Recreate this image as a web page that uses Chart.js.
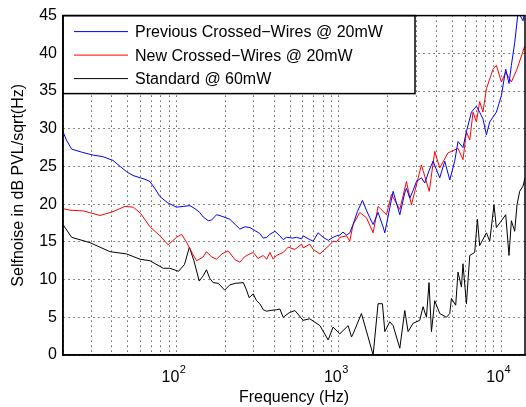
<!DOCTYPE html>
<html>
<head>
<meta charset="utf-8">
<script src="https://cdn.jsdelivr.net/npm/chart.js@4.4.1/dist/chart.umd.min.js"></script>
<style>
  html, body { margin: 0; padding: 0; background: #fff; }
  #wrap { width: 526px; height: 407px; }
</style>
</head>
<body>
<div id="wrap"><canvas id="chart" width="526" height="407"></canvas></div>
<script>
// Data (frequency in Hz, selfnoise in dB)
const prevFreq = [20,21,22.6,26,30.7,35.2,40.6,45,49.3,54,59.6,64,68.6,74,79.1,88,100,110,121,130,139,146,157,164.5,176.6,190,213,230,245.6,264,283,304,326,342,359,376,404,433,454,476,520,548,589,602,662,694,745,800,860,921,966,1013,1060,1114,1167,1223,1300,1397,1478,1549,1625,1743,1871,1918,2057,2157,2372,2546,2607,2731,2863,3003,3223,3380,3600,3802,4000,4180,4487,4818,5167,5415,5810,6100,6550,7030,7360,7715,8100,8490,9330,10020,10650,11160,11540,12100,12700,13620,13940];
const prevVals = [29.6,28.5,27.3,26.9,26.5,26.3,25.8,25.0,24.3,23.8,23.5,23.3,23.0,22.0,21.0,20.2,19.6,19.7,19.8,19.4,18.9,18.3,17.8,17.9,18.6,18.4,18.0,17.3,16.7,17.0,16.9,16.5,16.1,15.5,15.6,16.0,16.4,15.8,15.3,15.6,15.5,15.6,15.4,15.8,15.3,15.1,16.2,15.6,15.2,15.6,15.8,15.9,16.3,15.9,16.2,17.3,19.0,20.5,19.2,18.2,17.3,18.9,17.0,16.2,19.5,21.7,18.6,21.5,22.1,20.8,21.8,23.0,23.5,22.8,24.5,25.7,24.5,23.5,25.7,23.2,25.7,28.3,27.5,29.6,32.2,33.0,32.2,31.3,29.2,30.9,32.2,34.4,37.9,36.0,38.4,41.4,45.5,44.3,45.5];

const newFreq = [20,22.1,26.7,33.8,40.6,48.1,54.2,60,68.6,79.1,88.9,100,107.5,115,125,133,146,153,164.5,176.6,190,208,230,245.6,262,276,297,318,342,359,376,394,413,433,454,487,536,589,602,662,694,764,800,879,921,966,1013,1114,1167,1223,1345,1478,1625,1743,1963,2107,2372,2607,2797,3223,3600,3893,4180,4700,5415,5810,6100,6396,6700,7030,7360,7715,8100,8900,9330,10020,10650,11540,12500,13620,13940];
const newVals = [19.4,19.2,19.1,18.5,19.0,19.7,19.6,18.8,17.0,15.8,14.6,15.6,16.0,15.0,13.5,12.5,13.0,13.7,13.0,12.7,13.4,13.8,12.6,12.3,13.0,13.3,13.6,12.8,13.2,12.7,13.6,12.7,13.2,13.4,13.6,14.3,14.0,14.7,14.2,14.7,14.0,13.4,13.8,14.6,15.1,15.0,15.6,15.8,15.1,17.3,18.9,18.2,16.2,19.7,18.6,21.3,19.3,23.0,19.9,25.2,21.7,27.0,24.8,26.8,27.4,25.9,29.6,28.5,32.2,30.9,33.6,32.2,35.3,37.9,38.4,36.2,37.5,36.2,37.9,40.3,41.0];

const stdFreq = [20,22.6,29.3,38.9,49.3,59.6,68.6,82.8,91,103,112,120,128,138,146,153,160,168,181,198,213,230,258,270,280,297,311,326,342,359,376,413,433,454,494,536,602,662,764,859,921,1013,1140,1196,1223,1377,1513,1625,1743,1854,1918,2057,2157,2372,2546,2668,2863,3148,3299,3461,3590,3715,3893,4180,4594,4818,4932,5240,5415,5685,5810,6100,6396,6860,7130,7360,8100,8490,9020,9330,10020,10650,11160,11540,12100,12500,12980,13620,14000];
const stdVals = [17.3,15.6,14.9,13.7,13.4,12.7,12.5,11.5,11.5,11.1,12.0,14.3,12.5,9.8,10.5,11.3,10.2,9.6,9.5,8.6,9.3,9.5,9.6,8.6,7.6,8.1,7.2,6.8,6.0,5.8,5.9,6.0,6.1,5.0,5.6,5.9,4.6,4.8,3.9,2.0,3.7,2.8,3.9,2.4,2.8,5.5,2.4,0.0,6.8,6.8,3.1,4.4,3.9,0.9,5.9,3.1,4.2,4.6,6.4,5.0,9.6,3.1,7.2,5.5,5.0,5.5,7.5,6.6,11.0,9.0,12.1,6.8,13.2,13.6,18.0,14.5,16.2,15.1,19.9,16.9,17.8,18.6,13.2,17.8,16.4,19.9,21.7,22.4,23.5];

const seriesLabels = ['Previous Crossed\u2212Wires @ 20mW', 'New Crossed\u2212Wires @ 20mW', 'Standard @ 60mW'];
const seriesColors = ['#0000ff', '#ff0000', '#000000'];

// grid positions on the log axis and the exponents of the labelled decades
const xGridTicks = [20,30,40,50,60,70,80,90,100,200,300,400,500,600,700,800,900,1000,2000,3000,4000,5000,6000,7000,8000,9000,10000];
const xTickExponents = { 100: '2', 1000: '3', 10000: '4' };

const FONT = '"Liberation Sans", Arial, Helvetica, sans-serif';

function zip(xs, ys) {
    return xs.map((x, i) => ({ x: x, y: ys[i] }));
}

// Frame, legend box and the 10^n decade labels
const framePlugin = {
    id: 'frame',
    afterDraw(chart) {
        const { ctx, chartArea: a } = chart;
        const xScale = chart.scales.x;
        ctx.save();

        // decade labels with a raised exponent
        ctx.fillStyle = '#000';
        ctx.textBaseline = 'alphabetic';
        Object.keys(xTickExponents).forEach(v => {
            const px = xScale.getPixelForValue(Number(v));
            const exp = xTickExponents[v];
            ctx.font = '16px ' + FONT;
            const wBase = ctx.measureText('10').width;
            ctx.font = '11px ' + FONT;
            const wExp = ctx.measureText(exp).width;
            const x0 = px - 3 - (wBase + wExp) / 2;
            ctx.font = '16px ' + FONT;
            ctx.fillText('10', x0, a.bottom + 27);
            ctx.font = '11px ' + FONT;
            ctx.fillText(exp, x0 + wBase + 0.5, a.bottom + 18);
        });

        // legend
        const lx = a.left, ly = a.top, lw = 352, lh = 78;
        ctx.fillStyle = '#fff';
        ctx.fillRect(lx, ly, lw, lh);
        ctx.strokeStyle = '#000';
        ctx.lineWidth = 1.5;
        ctx.strokeRect(lx, ly, lw, lh);
        ctx.font = '16px ' + FONT;
        ctx.textBaseline = 'middle';
        chart.data.datasets.forEach((ds, i) => {
            const y = ly + 16 + i * 23.5;
            ctx.strokeStyle = ds.borderColor;
            ctx.lineWidth = 1;
            ctx.beginPath();
            ctx.moveTo(lx + 11, y);
            ctx.lineTo(lx + 65, y);
            ctx.stroke();
            ctx.fillStyle = '#000';
            ctx.fillText(ds.label, lx + 72, y + 1);
        });

        // box
        ctx.strokeStyle = '#000';
        ctx.lineWidth = 1.5;
        ctx.strokeRect(a.left, a.top, a.right - a.left, a.bottom - a.top);
        ctx.restore();
    }
};

const ctx = document.getElementById('chart').getContext('2d');
new Chart(ctx, {
    type: 'line',
    data: {
        datasets: [
            { label: seriesLabels[0], data: zip(prevFreq, prevVals), borderColor: seriesColors[0] },
            { label: seriesLabels[1], data: zip(newFreq, newVals), borderColor: seriesColors[1] },
            { label: seriesLabels[2], data: zip(stdFreq, stdVals), borderColor: seriesColors[2] }
        ].map(ds => Object.assign(ds, {
            borderWidth: 1,
            pointRadius: 0,
            tension: 0,
            fill: false
        }))
    },
    options: {
        responsive: false,
        animation: false,
        layout: { padding: { top: 10, right: 1, left: 0, bottom: 0 } },
        plugins: {
            legend: { display: false },
            tooltip: { enabled: false }
        },
        scales: {
            x: {
                type: 'logarithmic',
                min: 20,
                max: 14000,
                afterBuildTicks: scale => {
                    scale.ticks = xGridTicks.map(v => ({ value: v }));
                },
                afterFit: scale => { scale.height = 52; },
                ticks: { display: false, autoSkip: false },
                grid: { color: '#111', lineWidth: 1, drawTicks: false },
                border: { display: true, color: '#000', width: 1.5, dash: [1, 4] },
                title: {
                    display: true,
                    text: 'Frequency (Hz)',
                    color: '#000',
                    font: { family: FONT, size: 16 },
                    padding: { top: 0, bottom: 0 }
                }
            },
            y: {
                min: 0,
                max: 45,
                afterFit: scale => { scale.width = 63; },
                ticks: {
                    stepSize: 5,
                    padding: 6,
                    color: '#000',
                    font: { family: FONT, size: 16 }
                },
                grid: { color: '#111', lineWidth: 1, drawTicks: false },
                border: { display: true, color: '#000', width: 1.5, dash: [1, 4] },
                title: {
                    display: true,
                    text: 'Selfnoise in dB PVL/sqrt(Hz)',
                    color: '#000',
                    font: { family: FONT, size: 16 },
                    padding: { top: 9, bottom: 0 }
                }
            }
        }
    },
    plugins: [framePlugin]
});
</script>
</body>
</html>
